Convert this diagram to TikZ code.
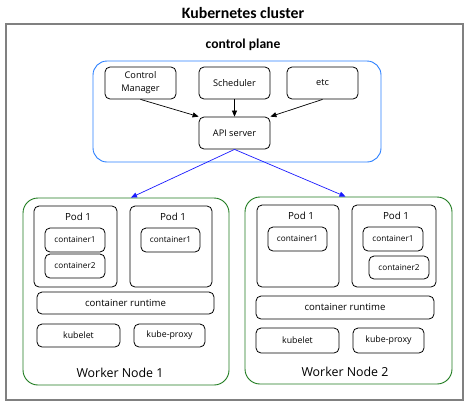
\documentclass[tikz,border=0pt]{standalone}
\usepackage{fontspec}
\setmainfont{Open Sans}
\newfontfamily\titlefont{Carlito}
\usetikzlibrary{arrows.meta}
\definecolor{clgray}{HTML}{808080}
\definecolor{cpblue}{HTML}{2A7FFF}
\definecolor{wngreen}{HTML}{1E7B1E}
\definecolor{arblue}{HTML}{1A1AFF}
\tikzset{
  box/.style={draw=black, line width=0.8pt, rounded corners=5pt, inner sep=0pt, align=center},
  cluster/.style={draw=clgray, line width=1.6pt, inner sep=0pt},
  cplane/.style={draw=cpblue, line width=0.9pt, rounded corners=14pt, inner sep=0pt},
  wnode/.style={draw=wngreen, line width=0.9pt, rounded corners=15pt, inner sep=0pt},
  ttl/.style={font=\titlefont\bfseries\fontsize{15.8}{18}\selectfont, inner sep=0pt},
  sub/.style={font=\titlefont\bfseries\fontsize{13.6}{16}\selectfont, inner sep=0pt},
  cptext/.style={font=\fontsize{9.2}{13}\selectfont},
  podtext/.style={font=\fontsize{9.8}{11}\selectfont, inner sep=0pt},
  ctext/.style={font=\fontsize{8.2}{9}\selectfont},
  rtext/.style={font=\fontsize{9.6}{11}\selectfont},
  ktext/.style={font=\fontsize{8.8}{10}\selectfont},
  wntext/.style={font=\fontsize{12.4}{14}\selectfont, inner sep=0pt},
  blk/.style={-{Triangle[length=6pt,width=5pt]}, line width=0.7pt, black},
  blu/.style={-{Triangle[length=6pt,width=5pt]}, line width=0.7pt, arblue},
}
\begin{document}
\begin{tikzpicture}[x=1pt,y=-1pt]
\useasboundingbox (0,0) rectangle (470,410);
% cluster
\node[ttl] (title) at (243,13) {Kubernetes cluster};
\node[cluster, minimum width=457pt, minimum height=376pt] (cluster) at (234.5,212) {};
% control plane
\node[sub] (cptitle) at (243,45) {control plane};
\node[cplane, minimum width=288pt, minimum height=101pt] (cp) at (237,111.5) {};
\node[box, cptext, minimum width=71pt, minimum height=32pt] (cm) at (140.5,83) {Control\\Manager};
\node[box, cptext, minimum width=71pt, minimum height=32pt] (sched) at (234.5,83) {Scheduler};
\node[box, cptext, minimum width=71pt, minimum height=32pt] (etc) at (322.5,83) {etc};
\node[box, cptext, minimum width=71pt, minimum height=32pt] (api) at (234.5,133) {API server};
\draw[blk] (cm.south) -- (api.north west);
\draw[blk] (sched.south) -- (api.north);
\draw[blk] (etc.south) -- (api.north east);
% worker node 1
\node[wnode, minimum width=206pt, minimum height=187pt] (wn1) at (126,291.5) {};
\node[box, minimum width=83pt, minimum height=81pt] (p1a) at (75.5,246.5) {};
\node[podtext] (p1at) at (78,217) {Pod 1};
\node[box, ctext, minimum width=60pt, minimum height=24pt] (c1a) at (75,240) {container1};
\node[box, ctext, minimum width=60pt, minimum height=24pt] (c2a) at (75,266) {container2};
\node[box, minimum width=82pt, minimum height=81pt] (p1b) at (171,246.5) {};
\node[podtext] (p1bt) at (173,217) {Pod 1};
\node[box, ctext, minimum width=59pt, minimum height=24pt] (c1b) at (170.5,240) {container1};
\node[box, rtext, minimum width=177pt, minimum height=22pt] (rt1) at (125.5,303) {container runtime};
\node[box, ktext, minimum width=83pt, minimum height=23pt] (kl1) at (78.5,335.5) {kubelet};
\node[box, ktext, minimum width=71pt, minimum height=23pt] (kp1) at (169.5,335.5) {kube-proxy};
\node[wntext] (wn1t) at (120,373) {Worker Node 1};
% worker node 2
\node[wnode, minimum width=207pt, minimum height=187pt] (wn2) at (348.5,290.5) {};
\node[box, minimum width=82pt, minimum height=82pt] (p2a) at (298,246) {};
\node[podtext] (p2at) at (301,216) {Pod 1};
\node[box, ctext, minimum width=59pt, minimum height=24pt] (c1c) at (297.5,239) {container1};
\node[box, minimum width=84pt, minimum height=82pt] (p2b) at (394,246) {};
\node[podtext] (p2bt) at (396,216) {Pod 1};
\node[box, ctext, minimum width=60pt, minimum height=24pt] (c1d) at (393,239) {container1};
\node[box, ctext, minimum width=60pt, minimum height=23pt] (c2d) at (399,267.5) {container2};
\node[box, rtext, minimum width=178pt, minimum height=23pt] (rt2) at (345,307.5) {container runtime};
\node[box, ktext, minimum width=83pt, minimum height=25pt] (kl2) at (297.5,340.5) {kubelet};
\node[box, ktext, minimum width=71pt, minimum height=25pt] (kp2) at (388.5,340.5) {kube-proxy};
\node[wntext] (wn2t) at (345,372) {Worker Node 2};
% api to workers
\draw[blu] (api.south) -- ([xshift=5pt]wn1.north);
\draw[blu] (api.south) -- ([xshift=-3pt]wn2.north);
\end{tikzpicture}
\end{document}
